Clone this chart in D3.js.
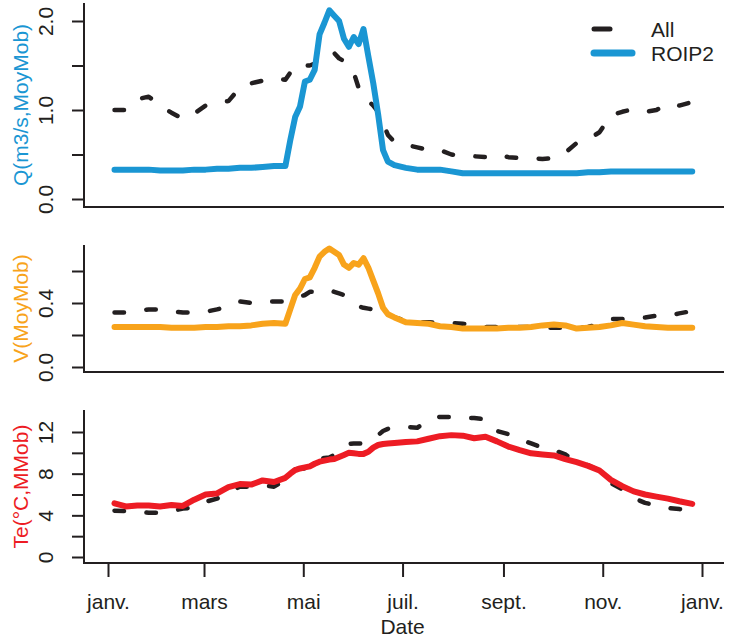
<!DOCTYPE html>
<html>
<head>
<meta charset="utf-8">
<script src="https://cdn.jsdelivr.net/npm/d3@7"></script>
<style>
  html, body { margin: 0; padding: 0; background: #ffffff; }
  svg { display: block; }
  text { font-family: "Liberation Sans", Arial, Helvetica, sans-serif; }
</style>
</head>
<body>
<script>
// ---------- DATA ----------
const year = 2001;
// day offsets from 1 January
const dayOfYear = [4, 11, 18, 25, 32, 39, 46, 53, 60, 67, 74, 81, 88, 95, 102, 109,
  112, 115, 118, 121, 124, 127, 130, 133, 136, 139, 142, 145, 148, 151, 154, 157, 160,
  163, 166, 169, 172, 176, 183, 190, 197, 204, 211, 218, 225, 232, 239, 246, 253, 260,
  267, 274, 281, 288, 295, 302, 309, 316, 323, 330, 337, 344, 351, 359];

const qAll = [1.00, 1.00, 1.12, 1.15, 1.05, 0.97, 0.90, 0.96, 1.05, 1.09, 1.10, 1.25, 1.30, 1.33, 1.36, 1.34,
  1.42, 1.50, 1.50, 1.50, 1.50, 1.52, 1.60, 1.62, 1.64, 1.64, 1.58, 1.55, 1.50, 1.42, 1.25, 1.15, 1.10,
  1.05, 0.98, 0.85, 0.72, 0.64, 0.61, 0.58, 0.55, 0.55, 0.50, 0.48, 0.48, 0.47, 0.50, 0.47, 0.46, 0.46,
  0.45, 0.46, 0.52, 0.63, 0.67, 0.75, 0.94, 0.98, 1.01, 0.98, 1.00, 1.07, 1.05, 1.09];

const qRoip2 = [0.33, 0.33, 0.33, 0.33, 0.32, 0.32, 0.32, 0.33, 0.33, 0.34, 0.34, 0.35, 0.35, 0.36, 0.37, 0.37,
  0.66, 0.92, 1.04, 1.32, 1.34, 1.45, 1.85, 1.98, 2.12, 2.06, 2.00, 1.80, 1.71, 1.82, 1.74, 1.91, 1.60,
  1.30, 0.95, 0.55, 0.42, 0.38, 0.35, 0.33, 0.33, 0.33, 0.31, 0.29, 0.29, 0.29, 0.29, 0.29, 0.29, 0.29,
  0.29, 0.29, 0.29, 0.29, 0.30, 0.30, 0.31, 0.31, 0.31, 0.31, 0.31, 0.31, 0.31, 0.31];

const vAll = [0.34, 0.34, 0.35, 0.36, 0.36, 0.35, 0.34, 0.34, 0.345, 0.36, 0.38, 0.41, 0.40, 0.41, 0.41, 0.41,
  0.42, 0.43, 0.44, 0.45, 0.47, 0.47, 0.47, 0.48, 0.48, 0.47, 0.46, 0.45, 0.43, 0.40, 0.38, 0.37, 0.365,
  0.36, 0.35, 0.34, 0.33, 0.31, 0.29, 0.28, 0.28, 0.275, 0.275, 0.27, 0.265, 0.25, 0.25, 0.25, 0.25, 0.25,
  0.245, 0.245, 0.245, 0.245, 0.25, 0.27, 0.30, 0.30, 0.31, 0.31, 0.32, 0.32, 0.335, 0.35];

const vRoip2 = [0.25, 0.25, 0.25, 0.25, 0.25, 0.245, 0.245, 0.245, 0.25, 0.25, 0.255, 0.255, 0.26, 0.27, 0.275, 0.27,
  0.36, 0.45, 0.49, 0.55, 0.56, 0.62, 0.69, 0.72, 0.74, 0.72, 0.70, 0.64, 0.62, 0.65, 0.64, 0.68, 0.62,
  0.54, 0.46, 0.37, 0.33, 0.31, 0.28, 0.275, 0.27, 0.255, 0.25, 0.24, 0.24, 0.24, 0.24, 0.245, 0.245, 0.25,
  0.26, 0.265, 0.26, 0.24, 0.245, 0.25, 0.26, 0.275, 0.265, 0.255, 0.25, 0.245, 0.245, 0.245];

const teAll = [4.45, 4.4, 4.35, 4.25, 4.25, 4.4, 4.65, 4.75, 5.3, 5.6, 6.2, 6.75, 6.75, 6.9, 6.75, 7.4,
  7.9, 8.4, 8.5, 8.5, 8.6, 9.0, 9.4, 9.5, 9.55, 9.8, 10.3, 10.6, 10.85, 10.9, 10.9, 10.9, 11.2,
  11.5, 11.7, 12.1, 12.3, 12.45, 12.5, 12.4, 13.2, 13.45, 13.45, 13.35, 13.35, 13.2, 12.1, 11.8, 11.3, 10.9,
  10.5, 10.25, 9.85, 9.1, 8.8, 8.3, 7.1, 6.5, 5.65, 5.2, 4.95, 4.7, 4.6, 4.5];

const teRoip2 = [5.15, 4.85, 4.95, 4.95, 4.85, 5.0, 4.9, 5.5, 6.0, 6.1, 6.7, 7.0, 6.95, 7.35, 7.2, 7.6,
  8.0, 8.35, 8.5, 8.6, 8.7, 8.95, 9.15, 9.25, 9.35, 9.4, 9.6, 9.8, 10.0, 9.95, 9.9, 9.9, 10.1,
  10.5, 10.75, 10.85, 10.9, 10.95, 11.05, 11.1, 11.35, 11.6, 11.7, 11.65, 11.4, 11.55, 11.1, 10.6, 10.25, 9.95,
  9.85, 9.75, 9.4, 9.1, 8.75, 8.3, 7.4, 6.8, 6.3, 6.0, 5.8, 5.6, 5.35, 5.1];

const monthTickMonths = [0, 2, 4, 6, 8, 10, 12];
const monthLabels = ["janv.", "mars", "mai", "juil.", "sept.", "nov.", "janv."];

const qTicks = [0, 0.5, 1, 1.5, 2];
const qTickLabels = ["0.0", "", "1.0", "", "2.0"];
const vTicks = [0, 0.2, 0.4, 0.6];
const vTickLabels = ["0.0", "", "0.4", ""];
const teTicks = [0, 2, 4, 6, 8, 10, 12];
const teTickLabels = ["0", "", "4", "", "8", "", "12"];

const seriesNames = ["All", "ROIP2"];
const xTitle = "Date";

// ---------- LAYOUT / STYLE ----------
const W = 736, H = 639;
const axisX = 84, rightX = 724;
const ink = "#231f20";
const colBlue = "#1a96d3", colOrange = "#f8a31b", colRed = "#ed1c24";
const fontSize = 21;
const dash = "9.5,22.5";

const dates = dayOfYear.map(d => new Date(year, 0, 1 + d));
const x = d3.scaleTime()
  .domain([new Date(year, 0, 1), new Date(year + 1, 0, 1)])
  .range([108, 702]);

const panels = [
  { top: 3, bottom: 207, scale: d3.scaleLinear().domain([0, 2]).range([199, 21]),
    ticks: qTicks, labels: qTickLabels, title: "Q(m3/s,MoyMob)", color: colBlue,
    all: qAll, roip: qRoip2 },
  { top: 245, bottom: 372, scale: d3.scaleLinear().domain([0, 0.6]).range([367, 271]),
    ticks: vTicks, labels: vTickLabels, title: "V(MoyMob)", color: colOrange,
    all: vAll, roip: vRoip2 },
  { top: 410, bottom: 563, scale: d3.scaleLinear().domain([0, 12]).range([557, 432]),
    ticks: teTicks, labels: teTickLabels, title: "Te(°C,MMob)", color: colRed,
    all: teAll, roip: teRoip2 }
];

const svg = d3.select("body").append("svg")
  .attr("width", W).attr("height", H)
  .attr("viewBox", `0 0 ${W} ${H}`);

panels.forEach((p, pi) => {
  const g = svg.append("g");
  const y = p.scale;

  // L-shaped box
  g.append("path")
    .attr("d", `M${axisX},${p.top}V${p.bottom}H${rightX}`)
    .attr("fill", "none").attr("stroke", ink).attr("stroke-width", 2);

  // y axis
  const ax = d3.axisLeft(y)
    .tickValues(p.ticks)
    .tickFormat((d, i) => p.labels[i])
    .tickSize(12).tickSizeOuter(0);
  const ag = g.append("g").attr("transform", `translate(${axisX},0)`).call(ax);
  ag.select(".domain").remove();
  ag.selectAll(".tick line").attr("stroke", ink).attr("stroke-width", 2);
  ag.selectAll(".tick text")
    .attr("x", 0).attr("y", -31).attr("dy", 0)
    .attr("transform", "rotate(-90)")
    .attr("text-anchor", "middle")
    .attr("fill", ink)
    .style("font-size", fontSize + "px")
    .style("font-family", '"Liberation Sans", Arial, sans-serif');

  // y title
  g.append("text")
    .attr("transform", `translate(28,${(p.top + p.bottom) / 2}) rotate(-90)`)
    .attr("text-anchor", "middle")
    .attr("fill", p.color)
    .style("font-size", fontSize + "px")
    .text(p.title);

  const line = d3.line()
    .x((d, i) => x(dates[i]))
    .y(d => y(d));

  // "All" dashed
  g.append("path")
    .datum(p.all)
    .attr("d", line)
    .attr("fill", "none")
    .attr("stroke", ink)
    .attr("stroke-width", 4.5)
    .attr("stroke-dasharray", dash)
    .attr("stroke-linecap", "round")
    .attr("stroke-linejoin", "round");

  // ROIP2 solid
  g.append("path")
    .datum(p.roip)
    .attr("d", line)
    .attr("fill", "none")
    .attr("stroke", p.color)
    .attr("stroke-width", 6)
    .attr("stroke-linecap", "round")
    .attr("stroke-linejoin", "round");
});

// x axis (bottom panel)
const monthDates = monthTickMonths.map(m => new Date(year, m, 1));
const xa = d3.axisBottom(x)
  .tickValues(monthDates)
  .tickFormat((d, i) => monthLabels[i])
  .tickSize(14).tickSizeOuter(0);
const xg = svg.append("g").attr("transform", `translate(0,${panels[2].bottom})`).call(xa);
xg.select(".domain").remove();
xg.selectAll(".tick line").attr("stroke", ink).attr("stroke-width", 2);
xg.selectAll(".tick text")
  .attr("y", 46).attr("dy", 0)
  .attr("fill", ink)
  .style("font-size", fontSize + "px")
  .style("font-family", '"Liberation Sans", Arial, sans-serif');

svg.append("text")
  .attr("x", x(new Date(year, 6, 1)))
  .attr("y", 634)
  .attr("text-anchor", "middle")
  .attr("fill", ink)
  .style("font-size", fontSize + "px")
  .text(xTitle);

// legend
const lg = svg.append("g");
const legendY = [29, 53];
lg.append("line")
  .attr("x1", 594).attr("x2", 634).attr("y1", legendY[0]).attr("y2", legendY[0])
  .attr("stroke", ink).attr("stroke-width", 5)
  .attr("stroke-dasharray", "16,40").attr("stroke-linecap", "round");
lg.append("line")
  .attr("x1", 594).attr("x2", 632).attr("y1", legendY[1]).attr("y2", legendY[1])
  .attr("stroke", colBlue).attr("stroke-width", 7).attr("stroke-linecap", "round");
seriesNames.forEach((n, i) => {
  lg.append("text")
    .attr("x", 651).attr("y", legendY[i] + 7.5)
    .attr("fill", ink)
    .style("font-size", fontSize + "px")
    .text(n);
});
</script>
</body>
</html>
